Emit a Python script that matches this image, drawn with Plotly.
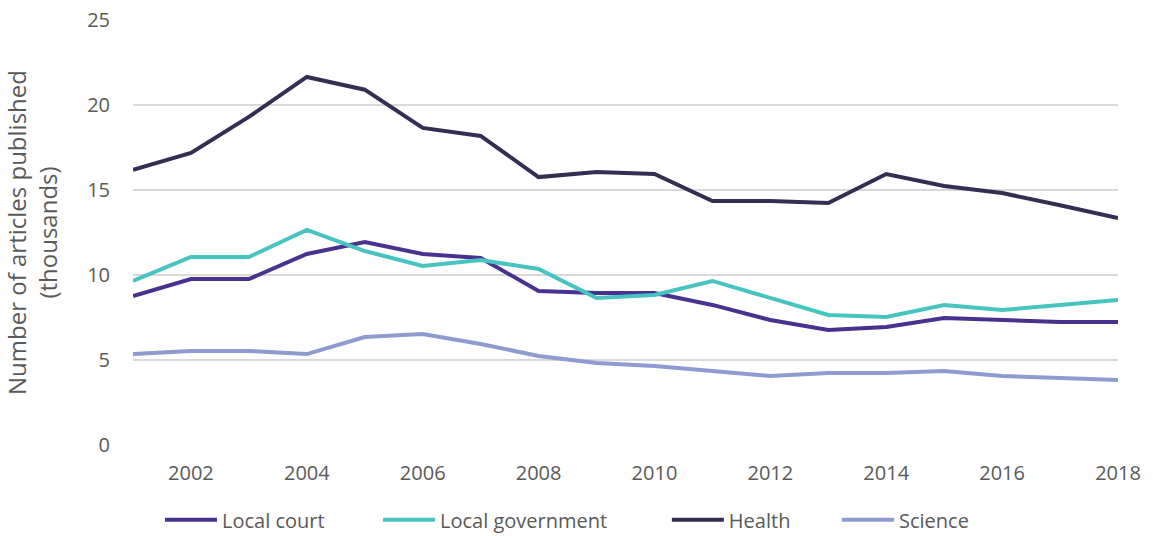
import plotly.graph_objects as go

years = list(range(2001, 2019))
local_court = [8.76, 9.76, 9.76, 11.24, 11.94, 11.24, 11.0, 9.06, 8.94, 8.94, 8.24, 7.35, 6.76, 6.94, 7.47, 7.35, 7.24, 7.24]
local_government = [9.65, 11.06, 11.06, 12.65, 11.41, 10.53, 10.88, 10.35, 8.65, 8.82, 9.65, 8.65, 7.65, 7.53, 8.24, 7.94, 8.24, 8.53]
health = [16.18, 17.18, 19.3, 21.65, 20.9, 18.65, 18.18, 15.76, 16.06, 15.94, 14.35, 14.35, 14.24, 15.94, 15.24, 14.82, 14.1, 13.35]
science = [5.35, 5.53, 5.53, 5.35, 6.35, 6.53, 5.94, 5.24, 4.82, 4.65, 4.35, 4.06, 4.24, 4.24, 4.35, 4.06, 3.94, 3.82]

series = [
    ("Local court", local_court, "#48318F"),
    ("Local government", local_government, "#47C3C1"),
    ("Health", health, "#352D52"),
    ("Science", science, "#8E9BD0"),
]
legend_x = [0.0274, 0.2487, 0.542, 0.7147]

x_ticks = list(range(2002, 2019, 2))
y_ticks = [0, 5, 10, 15, 20, 25]

font_family = "Open Sans, Lato, sans-serif"
fig = go.Figure()
legend_layouts = {}
for i, (name, vals, color) in enumerate(series):
    key = "legend" if i == 0 else f"legend{i + 1}"
    fig.add_trace(go.Scatter(x=years, y=vals, name=name, mode="lines",
                             line=dict(color=color, width=4), legend=key))
    legend_layouts[key] = dict(orientation="h", x=legend_x[i], xanchor="left",
                               y=-0.13, yanchor="top", itemwidth=52,
                               bgcolor="rgba(0,0,0,0)",
                               font=dict(size=20, color="#595959"))

fig.update_layout(
    width=1153, height=536,
    margin=dict(l=133, r=35, t=20, b=91, autoexpand=False),
    paper_bgcolor="white", plot_bgcolor="white",
    font=dict(family=font_family, color="#595959", size=20),
    showlegend=True,
    xaxis=dict(range=[2001, 2018], tickvals=x_ticks, showgrid=False, zeroline=False,
               showline=False, ticks="", ticklabelstandoff=14,
               tickfont=dict(size=20, color="#595959")),
    yaxis=dict(range=[0, 25], tickvals=y_ticks, showgrid=True, gridcolor="#d9d9d9",
               gridwidth=2, zeroline=False, showline=False, ticks="",
               ticklabelstandoff=22, tickfont=dict(size=20, color="#595959"),
               title=dict(text="Number of articles published<br>(thousands)",
                          font=dict(size=24, color="#595959"), standoff=24)),
    **legend_layouts,
)

fig.write_html("out.html", config={"displayModeBar": False},
               post_script="document.body.style.margin='0px';document.body.style.overflow='hidden';")
